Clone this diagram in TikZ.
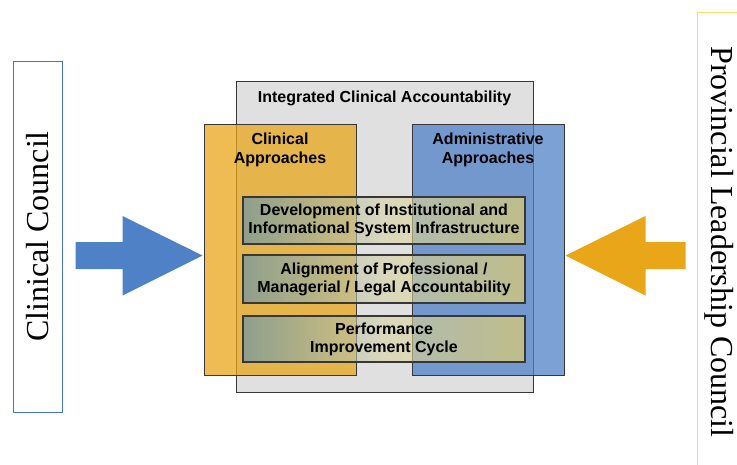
\documentclass[tikz,border=0pt]{standalone}
\usepackage{fontspec}
\setmainfont{Liberation Serif}
\setsansfont{Liberation Sans}
\usepackage{tikz}
\usetikzlibrary{calc}

\definecolor{clinorange}{RGB}{232,166,24}
\definecolor{adminblue}{RGB}{79,129,199}
\definecolor{icagray}{RGB}{224,224,224}
\definecolor{framegray}{RGB}{55,55,55}
\definecolor{ccline}{RGB}{68,114,196}
\definecolor{plcline}{RGB}{255,217,102}
\definecolor{taskleft}{RGB}{85,145,183}
\definecolor{taskmid}{RGB}{215,210,165}
\definecolor{taskright}{RGB}{243,215,93}

\tikzset{
	council/.style={draw, line width=0.8pt, minimum height=49pt, inner sep=0pt, font=\fontsize{32}{36}\selectfont},
	approach/.style={draw=framegray, line width=1pt, fill opacity=0.75, text opacity=1, minimum width=152pt, minimum height=251pt},
	heading/.style={align=center, inner sep=0pt, font=\sffamily\bfseries\fontsize{16}{19}\selectfont},
	task/.style={draw=framegray, line width=1.2pt, left color=taskleft, right color=taskright, middle color=taskmid, fill opacity=0.6, draw opacity=1, text opacity=1, minimum width=282pt, align=center, font=\sffamily\bfseries\fontsize{16}{18}\selectfont}
}

\begin{document}
\begin{tikzpicture}[x=1pt, y=-1pt]
	\useasboundingbox (0,0) rectangle (737,464);
	\clip (0,0) rectangle (737,464);

	% the two councils
	\node[council, draw=ccline, minimum width=351pt, rotate=90] (cc) at (37.5,236.5) {Clinical Council};
	\node[council, draw=plcline, minimum width=460pt, minimum height=44pt, rotate=-90] (plc) at (719,242) {Provincial Leadership Council};

	% integrated accountability frame
	\node[draw=framegray, line width=1pt, fill=icagray, minimum width=297pt, minimum height=311pt] (ica) at (384.5,236.5) {};
	\node[heading] (icatitle) at (384.5,98.5) {Integrated Clinical Accountability};

	\node[approach, fill=clinorange] (clin) at (280,249.5) {};
	\node[approach, fill=adminblue] (admin) at (488,249.5) {};
	\node[heading] (clintitle) at (280,149.5) {Clinical\\Approaches};
	\node[heading] (admintitle) at (488,149.5) {Administrative\\Approaches};

	% shared tasks across both approaches
	\node[task, minimum height=47pt] (infra) at (384,220.5) {Development of Institutional and\\Informational System Infrastructure};
	\node[task, minimum height=48pt] (align) at (384,279) {Alignment of Professional /\\Managerial / Legal Accountability};
	\node[task, minimum height=46pt] (cycle) at (384,339) {Performance\\Improvement Cycle};

	% block arrows into the frame
	\coordinate (cctip) at ($(clin.west)+(-1,6)$);
	\coordinate (plctip) at ($(admin.east)+(1,6)$);
	\fill[adminblue] (cctip) -- ++(-80,-39.5) -- ++(0,26) -- ++(-47,0) -- ++(0,27) -- ++(47,0) -- ++(0,26.5) -- cycle;
	\fill[clinorange] (plctip) -- ++(80,-39.5) -- ++(0,26) -- ++(40,0) -- ++(0,27) -- ++(-40,0) -- ++(0,26.5) -- cycle;
\end{tikzpicture}
\end{document}
